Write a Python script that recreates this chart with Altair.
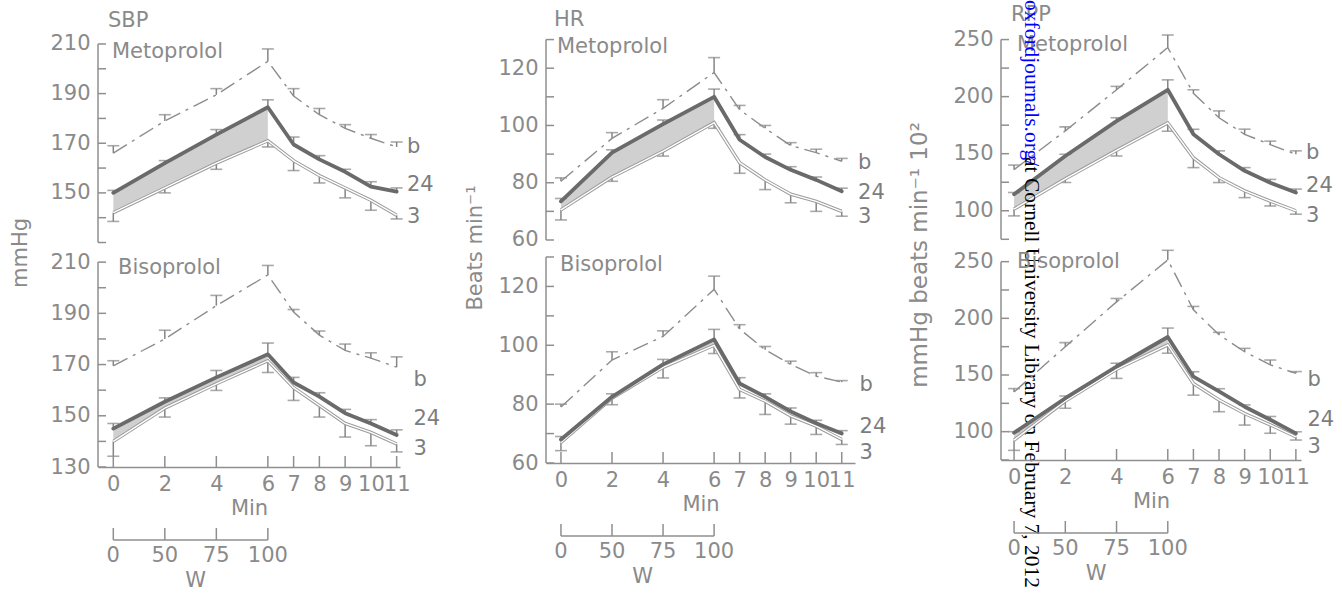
import altair as alt
import pandas as pd

# ---------------- data ----------------
minutes = [0, 2, 4, 6, 7, 8, 9, 10, 11]

# SBP (mmHg)
sbp_met_b = [166, 179, 189.5, 203, 189, 181.5, 176, 172, 168.5]
sbp_met_b_err = [3, 2.5, 2.5, 5, 3, 2.5, 1.5, 1.5, 2]
sbp_met_24 = [150, 162, 173.5, 184.5, 169.5, 163.5, 158.5, 152.5, 150.5]
sbp_met_24_err = [1, 1, 2, 3, 3, 1.5, 1, 2, 1.5]
sbp_met_3 = [142, 152, 162, 171, 163, 157, 152, 147, 141]
sbp_met_3_err = [3.5, 2, 2.5, 2.5, 4, 3, 4, 4, 1.5]

sbp_bis_b = [169.5, 180, 193, 205, 190.5, 181.5, 175.5, 172.5, 169]
sbp_bis_b_err = [2, 3.4, 4, 3.7, 1, 1.6, 2.5, 2.1, 4]
sbp_bis_24 = [145, 155.5, 165, 174, 163, 157.5, 151, 147, 142.5]
sbp_bis_24_err = [2, 1.5, 2.7, 4.4, 2, 1.5, 1.5, 1.5, 2]
sbp_bis_3 = [140, 153, 162.5, 171.5, 161, 154, 147, 143.5, 139]
sbp_bis_3_err = [5.8, 3.5, 2.6, 4.6, 5, 4.5, 5.3, 5.2, 3.1]

# HR (beats/min)
hr_met_b = [80.5, 95.5, 106, 118.5, 105.5, 99, 93, 90.5, 87.5]
hr_met_b_err = [1.2, 2, 3, 5.2, 1.5, 1, 1, 1.2, 1]
hr_met_24 = [73.5, 90.5, 100.5, 110, 95, 89, 84.5, 81, 77]
hr_met_24_err = [1, 1, 1.4, 2.7, 1.8, 1, 1.1, 1, 1.1]
hr_met_3 = [70.5, 82, 91, 101, 87, 81, 76, 73.5, 70]
hr_met_3_err = [3.5, 1.5, 1.7, 2, 3.7, 3.4, 3, 3.5, 1.7]

hr_bis_b = [79, 95, 103, 119, 105.5, 98.5, 93.5, 89.5, 87.5]
hr_bis_b_err = [1, 2.8, 1.9, 4.5, 1.5, 1.1, 1.1, 1.2, 0.5]
hr_bis_24 = [68, 82.5, 93.5, 102, 87, 82.5, 77.5, 73.5, 70]
hr_bis_24_err = [1, 1, 1.7, 3.4, 2, 1, 1.2, 1, 1]
hr_bis_3 = [67, 82, 92.5, 100, 85, 81, 76, 72.5, 68]
hr_bis_3_err = [2.8, 2.2, 3.6, 2.8, 2.9, 4.5, 2.8, 2.8, 1.7]

# RPP (mmHg beats/min /100)
rpp_met_b = [136, 170, 206, 243, 203, 181.5, 167, 158, 149.5]
rpp_met_b_err = [4, 3.5, 3, 11, 3, 6, 4.5, 3, 3]
rpp_met_24 = [114.5, 148, 178.5, 206, 167, 149.5, 135, 124.5, 116]
rpp_met_24_err = [1.5, 1.5, 3, 8.7, 4.4, 3, 2.8, 3, 3]
rpp_met_3 = [101.5, 128, 153, 177, 146.5, 129, 117.5, 108.5, 100]
rpp_met_3_err = [6, 3.3, 5, 7.3, 8.7, 4.3, 6, 4.3, 3]

rpp_bis_b = [135, 175, 214.5, 251.5, 207.5, 185.5, 170.5, 159, 151.5]
rpp_bis_b_err = [3, 3.6, 3, 8.5, 3, 2.1, 3, 4.2, 1.5]
rpp_bis_24 = [99, 129.5, 157.5, 183.5, 148.5, 135.5, 122, 110.5, 98.5]
rpp_bis_24_err = [1, 2, 2.9, 7.9, 4.4, 2.4, 1.6, 2.9, 1.4]
rpp_bis_3 = [92.5, 127, 155, 176.5, 142.5, 128, 116, 106, 95.5]
rpp_bis_3_err = [9, 6.4, 8, 7.3, 10.3, 10.4, 10.2, 7.4, 2.9]

series_labels = ["b", "24", "3"]
w_tick_minutes = [0, 2, 4, 6]
w_tick_labels = ["0", "50", "75", "100"]

measures = ["SBP", "HR", "RPP"]
y_titles = ["mmHg", "Beats min\u207b\u00b9", "mmHg beats min\u207b\u00b9 10\u00b2"]
drugs = ["Metoprolol", "Bisoprolol"]

DATA = {
    ("SBP", "Metoprolol"): (sbp_met_b, sbp_met_b_err, sbp_met_24, sbp_met_24_err, sbp_met_3, sbp_met_3_err),
    ("SBP", "Bisoprolol"): (sbp_bis_b, sbp_bis_b_err, sbp_bis_24, sbp_bis_24_err, sbp_bis_3, sbp_bis_3_err),
    ("HR", "Metoprolol"): (hr_met_b, hr_met_b_err, hr_met_24, hr_met_24_err, hr_met_3, hr_met_3_err),
    ("HR", "Bisoprolol"): (hr_bis_b, hr_bis_b_err, hr_bis_24, hr_bis_24_err, hr_bis_3, hr_bis_3_err),
    ("RPP", "Metoprolol"): (rpp_met_b, rpp_met_b_err, rpp_met_24, rpp_met_24_err, rpp_met_3, rpp_met_3_err),
    ("RPP", "Bisoprolol"): (rpp_bis_b, rpp_bis_b_err, rpp_bis_24, rpp_bis_24_err, rpp_bis_3, rpp_bis_3_err),
}

# ---------------- layout / style ----------------
FONT = "DejaVu Sans"
GRAY = "#8a8a8a"
AXC = "#8f8f8f"
DARK = "#6a6a6a"
SHADE = "#cdcdcd"
FS = 21

COL = {
    "SBP": dict(w=302, xdom=[-0.594, 11.13],
                ydoms=[[129, 212], [130, 212]], hs=[206, 210], axis=[130, 210],
                ticks=[130, 140, 150, 160, 170, 180, 190, 200, 210],
                labels=[[150, 170, 190, 210], [130, 150, 170, 190, 210]],
                title_pos=(10, -18), ytitle_pos=(-77, 214), ytitle_fs=21),
    "HR": dict(w=309, xdom=[-0.586, 11.52],
               ydoms=[[58.25, 130.2], [60, 130]], hs=[206, 206], axis=[60, 130],
               ticks=[60, 70, 80, 90, 100, 110, 120, 130],
               labels=[[60, 80, 100, 120], [60, 80, 100, 120]],
               title_pos=(8, -19), ytitle_pos=(-70, 209), ytitle_fs=21),
    "RPP": dict(w=300, xdom=[-0.51, 11.2],
                ydoms=[[70, 250.5], [75, 254.1]], hs=[206, 203], axis=[75, 250],
                ticks=[75, 100, 125, 150, 175, 200, 225, 250],
                labels=[[100, 150, 200, 250], [100, 150, 200, 250]],
                title_pos=(10, -24), ytitle_pos=(-81, 216), ytitle_fs=23),
}
DRUG_POS = {
    ("SBP", "Metoprolol"): (14, 13), ("SBP", "Bisoprolol"): (20, 11),
    ("HR", "Metoprolol"): (11, 8), ("HR", "Bisoprolol"): (14, 8),
    ("RPP", "Metoprolol"): (16, 6), ("RPP", "Bisoprolol"): (16, 5),
}
END_LABEL_POS = {
    ("SBP", "Metoprolol"): (11.4, [168.5, 153.2, 140.3]),
    ("SBP", "Bisoprolol"): (11.65, [163.8, 148.9, 137.2]),
    ("HR", "Metoprolol"): (11.64, [86.8, 76.3, 68.1]),
    ("HR", "Bisoprolol"): (11.7, [86.6, 72.4, 63.4]),
    ("RPP", "Metoprolol"): (11.4, [150.9, 121.8, 95.6]),
    ("RPP", "Bisoprolol"): (11.45, [145.6, 110.3, 86.8]),
}
W_TITLE_X = 3.2
WM_FS = 21.5


def one_row():
    return pd.DataFrame({"k": [0]})


def panel(measure, drug, idx):
    c = COL[measure]
    is_bottom = idx == 1
    W, H = c["w"], c["hs"][idx]
    xdom, ydom = c["xdom"], c["ydoms"][idx]
    b, be, s24, s24e, s3, s3e = DATA[(measure, drug)]

    if is_bottom:
        xaxis = alt.Axis(values=minutes, title="Min", domain=True, domainColor=AXC,
                         domainWidth=1.5, ticks=False, grid=False, labelFont=FONT,
                         labelFontSize=FS, labelColor=GRAY, labelPadding=6,
                         labelOverlap=False, labelFlush=False, titleFont=FONT,
                         titleFontSize=FS, titleFontWeight="normal", titleColor=GRAY,
                         titlePadding=3)
    else:
        xaxis = None
    yaxis = alt.Axis(values=c["labels"][idx], title=None, domain=False, ticks=False,
                     grid=False, labelFont=FONT, labelFontSize=FS, labelColor=GRAY,
                     labelPadding=8, labelOverlap=False, labelFlush=False)

    def X(f):
        return alt.X(f, type="quantitative",
                     scale=alt.Scale(domain=xdom, nice=False, zero=False), axis=xaxis)

    def Y(f):
        return alt.Y(f, type="quantitative",
                     scale=alt.Scale(domain=ydom, nice=False, zero=False), axis=yaxis)

    wide = pd.DataFrame({"minute": minutes, "b": b, "s24": s24, "s3": s3})
    shade = wide[wide["minute"] <= 6]

    rows = []
    for m, v, e in zip(minutes, b, be):
        rows.append({"minute": m, "lo": v, "hi": v + e, "cap": v + e})
    for m, v, e in zip(minutes, s24, s24e):
        rows.append({"minute": m, "lo": v, "hi": v + e, "cap": v + e})
    for m, v, e in zip(minutes, s3, s3e):
        rows.append({"minute": m, "lo": v - e, "hi": v, "cap": v - e})
    err = pd.DataFrame(rows)

    layers = []
    layers.append(alt.Chart(shade).mark_area(color=SHADE, opacity=0.95).encode(
        x=X("minute"), y=Y("s24"), y2=alt.Y2("s3")))
    layers.append(alt.Chart(err).mark_rule(color="#858585", strokeWidth=1.5).encode(
        x=X("minute"), y=Y("lo"), y2=alt.Y2("hi")))
    layers.append(alt.Chart(err).mark_tick(color="#858585", orient="horizontal",
                                           size=12, thickness=1.6).encode(
        x=X("minute"), y=Y("cap")))
    layers.append(alt.Chart(wide).mark_line(color="#8c8c8c", strokeWidth=1.4,
                                            strokeDash=[16, 6, 3, 6]).encode(
        x=X("minute"), y=Y("b")))
    layers.append(alt.Chart(wide).mark_line(color="#9c9c9c", strokeWidth=3.4).encode(
        x=X("minute"), y=Y("s3")))
    layers.append(alt.Chart(wide).mark_line(color="white", strokeWidth=1.4).encode(
        x=X("minute"), y=Y("s3")))
    layers.append(alt.Chart(wide).mark_line(color=DARK, strokeWidth=3.8,
                                            strokeJoin="round", strokeCap="round").encode(
        x=X("minute"), y=Y("s24")))

    # custom y axis line and inward ticks
    ax = pd.DataFrame({"lo": [c["axis"][0]], "hi": [c["axis"][1]]})
    layers.append(alt.Chart(ax).mark_rule(color=AXC, strokeWidth=1.5).encode(
        x=alt.value(0), y=Y("lo"), y2=alt.Y2("hi")))
    tk = pd.DataFrame({"v": c["ticks"]})
    layers.append(alt.Chart(tk).mark_rule(color=AXC, strokeWidth=1.5).encode(
        x=alt.value(0), x2=alt.value(8), y=Y("v")))

    # end labels
    lx, lys = END_LABEL_POS[(measure, drug)]
    lab = pd.DataFrame({"x": [lx] * 3, "y": lys, "t": series_labels})
    layers.append(alt.Chart(lab).mark_text(align="left", baseline="middle", font=FONT,
                                           fontSize=FS, color="#7d7d7d").encode(
        x=X("x"), y=Y("y"), text="t:N"))

    # drug label
    dx, dy = DRUG_POS[(measure, drug)]
    layers.append(alt.Chart(one_row()).mark_text(align="left", baseline="middle", font=FONT,
                                                 fontSize=FS, color=GRAY).encode(
        x=alt.value(dx), y=alt.value(dy), text=alt.value(drug)))

    if is_bottom:
        xt = pd.DataFrame({"v": minutes})
        layers.append(alt.Chart(xt).mark_rule(color=AXC, strokeWidth=1.5).encode(
            x=X("v"), y=alt.value(H), y2=alt.value(H - 11)))
        wl = pd.DataFrame({"lo": [w_tick_minutes[0]], "hi": [w_tick_minutes[-1]]})
        layers.append(alt.Chart(wl).mark_rule(color=AXC, strokeWidth=1.5).encode(
            x=X("lo"), x2=alt.X2("hi"), y=alt.value(H + 73)))
        wt = pd.DataFrame({"v": w_tick_minutes, "t": w_tick_labels})
        layers.append(alt.Chart(wt).mark_rule(color=AXC, strokeWidth=1.5).encode(
            x=X("v"), y=alt.value(H + 73), y2=alt.value(H + 61)))
        layers.append(alt.Chart(wt).mark_text(align="center", baseline="middle", font=FONT,
                                              fontSize=FS, color=GRAY).encode(
            x=X("v"), y=alt.value(H + 89), text="t:N"))
        wtt = pd.DataFrame({"v": [W_TITLE_X], "t": ["W"]})
        layers.append(alt.Chart(wtt).mark_text(align="center", baseline="middle", font=FONT,
                                               fontSize=FS, color=GRAY).encode(
            x=X("v"), y=alt.value(H + 114), text="t:N"))
    else:
        tx, ty = c["title_pos"]
        layers.append(alt.Chart(one_row()).mark_text(align="left", baseline="middle",
                                                     font=FONT, fontSize=FS, color=GRAY).encode(
            x=alt.value(tx), y=alt.value(ty), text=alt.value(measure)))
        yx, yy = c["ytitle_pos"]
        ytitle = y_titles[measures.index(measure)]
        layers.append(alt.Chart(one_row()).mark_text(align="center", baseline="middle",
                                                     angle=270, font=FONT,
                                                     fontSize=c["ytitle_fs"],
                                                     color=GRAY).encode(
            x=alt.value(yx), y=alt.value(yy), text=alt.value(ytitle)))
        if measure == "RPP":
            layers.append(alt.Chart(one_row()).mark_text(
                align="left", baseline="middle", angle=90, font="Liberation Serif",
                fontSize=WM_FS, color="#0000ff").encode(
                x=alt.value(30), y=alt.value(-39), text=alt.value("oxfordjournals.org/")))
            layers.append(alt.Chart(one_row()).mark_text(
                align="left", baseline="middle", angle=90, font="Liberation Serif",
                fontSize=WM_FS, color="#000000").encode(
                x=alt.value(30), y=alt.value(118),
                text=alt.value(" at Cornell University Library on February 7, 2012")))

    return alt.layer(*layers).properties(width=W, height=H)


panels = [panel(m, d, i) for i, d in enumerate(drugs) for m in measures]

chart = alt.concat(*panels, columns=3, spacing={"row": 12, "column": 146},
                   bounds="flush", align="each").properties(
    padding={"left": 10, "top": 0, "right": 5, "bottom": 0},
    background="white",
).configure_view(stroke=None)

chart.save("out.html", embed_options={"renderer": "svg", "actions": False})
